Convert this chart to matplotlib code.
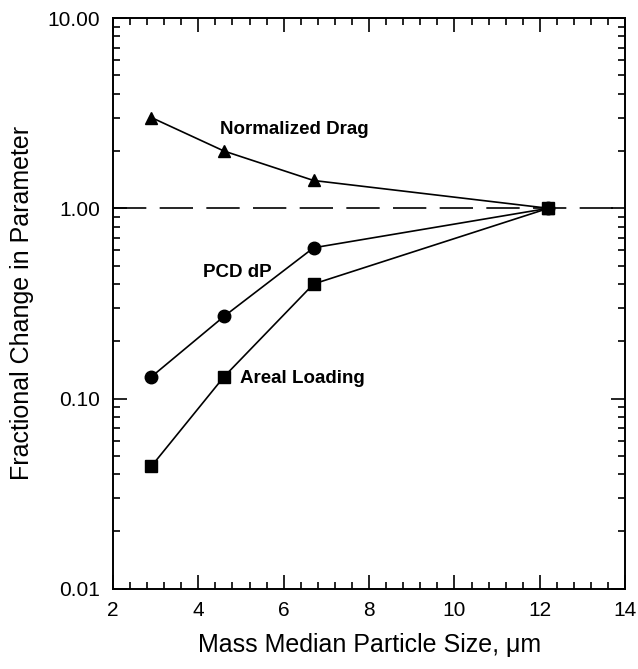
import matplotlib
matplotlib.use("Agg")
import matplotlib.pyplot as plt
from matplotlib.ticker import FixedLocator, LogLocator, NullFormatter, MultipleLocator

plt.rcParams['font.family'] = ['Liberation Sans', 'DejaVu Sans']

size = [2.9, 4.6, 6.7, 12.2]
drag = [3.0, 2.0, 1.4, 1.0]
pcd_dp = [0.13, 0.27, 0.62, 1.0]
areal = [0.044, 0.13, 0.40, 1.0]
yticks = [0.01, 0.1, 1.0, 10.0]
yticklabels = ["0.01", "0.10", "1.00", "10.00"]
xticks = [2, 4, 6, 8, 10, 12, 14]

fig = plt.figure(figsize=(6.38, 6.69), dpi=100)
ax = fig.add_axes([0.177, 0.12, 0.803, 0.853])

ax.axhline(1.0, color='black', lw=1.2, dashes=(20, 8), zorder=1)
ax.plot(size, drag, '-^', color='black', lw=1.2, ms=9, zorder=3)
ax.plot(size, pcd_dp, '-o', color='black', lw=1.2, ms=9, zorder=3)
ax.plot(size, areal, '-s', color='black', lw=1.2, ms=8, zorder=3)

ax.text(4.5, 2.58, "Normalized Drag", fontsize=13.5, fontweight='bold', va='center', ha='left')
ax.text(4.1, 0.46, "PCD dP", fontsize=13.5, fontweight='bold', va='center', ha='left')
ax.text(4.98, 0.128, "Areal Loading", fontsize=13.5, fontweight='bold', va='center', ha='left')

ax.set_yscale('log')
ax.set_xlim(2, 14)
ax.set_ylim(0.01, 10)
ax.xaxis.set_major_locator(FixedLocator(xticks))
ax.xaxis.set_minor_locator(MultipleLocator(0.4))
ax.set_yticks(yticks)
ax.set_yticklabels(yticklabels)
ax.yaxis.set_minor_locator(LogLocator(base=10, subs=range(2, 10)))
ax.yaxis.set_minor_formatter(NullFormatter())

ax.tick_params(which='both', direction='in', top=True, right=True, labelsize=15, width=1.2)
ax.tick_params(which='major', length=10, pad=9)
ax.tick_params(which='minor', length=5)
for s in ax.spines.values():
    s.set_linewidth(1.4)

ax.set_xlabel("Mass Median Particle Size, \u03bcm", fontsize=18, labelpad=9)
ax.set_ylabel("Fractional Change in Parameter", fontsize=18, labelpad=10)

fig.savefig("out.png", dpi=100)
